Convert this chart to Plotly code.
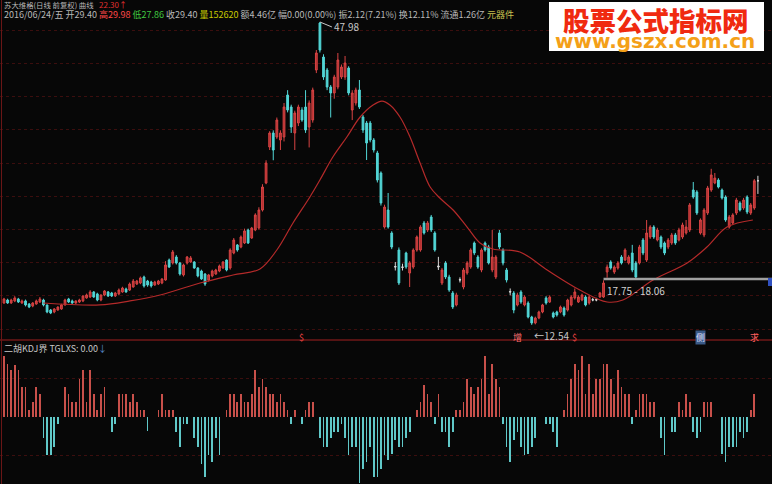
import plotly.graph_objects as go

# ---------------- data ----------------
opens = [15.10,15.45,15.10,15.34,15.57,15.10,15.34,14.98,14.75,14.98,
 15.22,15.45,14.87,14.28,14.05,14.28,14.40,14.87,15.57,15.34,
 15.10,15.22,15.34,15.69,15.80,16.39,16.16,15.45,16.04,16.39,
 16.27,15.92,16.16,16.39,16.74,16.62,16.97,17.32,17.44,18.14,
 17.67,17.56,17.21,17.32,17.44,17.79,20.13,19.78,20.48,19.78,
 18.38,19.78,19.90,19.90,19.19,18.84,18.49,17.79,18.26,18.49,
 18.84,19.19,20.13,19.19,20.95,21.89,21.65,22.12,23.64,22.70,
 23.64,23.87,25.98,29.14,33.35,34.99,34.52,34.17,34.52,39.43,
 38.03,34.99,36.16,37.68,38.03,35.69,36.51,42.36,47.86,43.88,
 42.36,40.37,39.67,40.37,41.54,41.54,42.59,37.68,38.50,40.02,
 36.86,36.16,36.16,34.17,32.65,30.31,23.99,25.98,23.29,19.31,
 21.30,19.31,20.95,18.61,19.31,21.30,21.30,24.46,23.64,25.16,
 23.29,19.31,17.44,19.78,18.14,16.27,14.87,17.79,16.97,18.61,
 19.31,22.12,20.48,18.96,22.12,21.65,18.96,18.14,23.29,21.30,
 18.96,16.39,16.27,14.87,16.39,14.87,15.10,13.46,12.76,13.34,
 14.05,15.69,15.22,13.93,14.05,14.05,14.51,14.28,14.87,15.69,
 15.22,15.45,15.80,15.10,15.45,15.45,15.80,15.80,18.73,19.90,
 18.73,19.19,20.48,20.13,19.78,20.95,19.78,19.78,22.47,20.13,
 22.82,23.99,22.47,22.82,22.12,21.65,22.12,23.06,22.47,22.82,
 23.29,23.64,28.32,28.09,23.29,23.06,25.63,28.32,29.14,29.49,
 28.32,27.50,23.99,24.46,25.63,26.80,26.21,27.50,25.63,26.21,
 29.40]
highs = [15.70,15.60,15.60,15.90,15.70,15.50,15.50,15.10,15.20,15.50,
 15.80,15.60,14.90,14.40,14.50,14.70,15.00,15.60,15.70,15.50,
 15.40,15.60,16.00,16.20,16.60,16.50,16.30,16.10,16.60,16.50,
 16.40,16.40,16.80,17.00,16.90,17.50,17.90,17.80,18.20,18.30,
 17.80,17.70,17.70,17.80,18.00,20.00,20.30,21.30,20.70,19.90,
 19.70,20.60,20.60,20.00,19.30,19.00,18.60,18.50,19.00,19.10,
 19.60,20.00,20.20,21.50,22.70,22.00,23.00,23.80,23.80,24.00,
 25.60,26.30,29.00,31.80,35.20,35.30,36.80,35.30,38.50,40.00,
 38.30,37.60,38.30,38.00,40.00,38.80,40.30,44.70,47.98,44.20,
 42.60,40.60,41.80,44.35,43.00,44.00,42.80,40.00,40.30,41.19,
 37.10,36.40,36.40,34.40,32.90,30.50,26.60,27.97,23.50,19.90,
 21.60,19.70,21.10,20.00,21.50,23.00,24.20,24.70,24.70,25.40,
 23.50,20.50,19.20,20.00,18.40,16.50,16.30,18.10,19.20,20.00,
 21.50,22.30,20.70,21.50,22.30,21.90,23.64,20.70,23.64,21.50,
 19.20,16.80,16.50,16.30,16.60,16.00,15.30,13.60,13.50,14.20,
 15.00,15.90,16.00,14.10,14.20,14.80,14.70,15.60,16.00,16.80,
 16.00,16.20,16.00,16.00,15.70,15.70,16.40,17.75,19.60,20.10,
 19.50,20.00,20.70,21.50,20.70,21.90,20.00,21.90,22.70,24.81,
 24.20,24.20,23.90,23.00,22.30,22.70,23.30,23.30,23.90,24.50,
 24.81,26.80,29.26,28.30,25.00,26.20,28.80,30.80,30.31,29.70,
 28.50,27.70,25.40,25.60,27.40,27.00,27.40,27.70,26.80,29.60,
 29.98]
lows = [15.00,15.00,15.00,15.20,15.10,15.00,14.70,14.50,14.60,14.90,
 15.10,14.70,13.90,13.80,13.90,14.20,14.30,14.80,15.10,15.00,
 15.00,15.10,15.20,15.60,15.70,15.70,15.30,15.30,15.90,15.80,
 15.80,15.80,16.00,16.30,16.30,16.50,16.90,17.20,17.30,16.90,
 17.00,16.90,17.10,17.20,17.30,17.70,19.20,19.60,19.60,18.30,
 18.20,19.60,19.80,19.10,18.10,17.80,17.10,17.60,18.10,18.40,
 18.70,19.10,18.80,19.00,20.80,21.10,21.50,22.00,22.00,22.60,
 23.50,23.70,25.80,29.00,33.00,31.80,34.30,33.00,34.00,37.40,
 35.00,33.00,35.80,36.30,35.00,33.30,36.20,42.00,44.40,41.20,
 40.00,36.80,39.00,40.10,41.30,41.20,39.40,36.50,38.20,37.80,
 35.00,31.83,33.90,32.70,29.20,26.50,23.80,23.80,21.40,18.90,
 17.20,18.90,19.10,16.97,19.10,21.10,21.10,23.10,23.40,23.40,
 21.10,18.96,17.20,17.90,16.40,14.40,14.70,17.50,16.70,18.40,
 19.10,20.70,19.10,18.70,21.10,19.60,18.70,17.90,21.40,19.50,
 17.50,16.00,13.90,14.70,15.00,14.70,13.30,12.54,12.60,13.20,
 13.90,14.90,15.10,13.30,13.50,13.90,13.50,14.10,14.70,15.50,
 15.10,15.30,14.70,14.90,15.30,15.30,15.70,15.70,18.06,19.00,
 18.50,19.00,19.60,20.00,19.60,18.70,17.90,19.60,20.70,19.90,
 22.60,22.60,22.30,21.40,20.70,21.40,21.90,21.90,22.30,22.60,
 23.10,23.40,27.30,25.40,23.10,22.80,25.40,28.10,29.00,28.50,
 27.20,24.60,23.80,24.30,25.40,25.80,26.00,25.50,25.40,26.00,
 27.86]
closes = [15.57,15.10,15.45,15.69,15.22,15.34,14.87,14.63,15.10,15.34,
 15.57,14.87,14.05,13.93,14.40,14.63,14.87,15.45,15.22,15.10,
 15.34,15.45,15.92,16.04,16.39,15.80,15.45,16.04,16.51,15.92,
 15.92,16.27,16.62,16.85,16.39,17.32,17.67,17.67,18.03,17.09,
 17.21,17.09,17.56,17.67,17.91,19.55,19.31,21.07,19.78,18.49,
 19.55,20.48,20.37,19.19,18.26,17.91,17.32,18.38,18.84,18.96,
 19.43,19.90,18.96,21.30,22.47,21.30,22.82,23.53,22.12,23.87,
 25.40,25.98,28.67,31.48,34.99,33.00,36.51,34.99,38.03,37.68,
 35.69,37.33,38.03,36.51,35.34,38.50,40.02,44.35,44.70,41.54,
 40.37,39.67,41.54,43.53,42.71,43.18,39.67,39.67,40.02,38.03,
 35.34,33.82,34.17,33.00,29.49,26.80,26.33,23.99,21.65,19.35,
 17.44,19.28,19.31,19.78,21.30,22.82,23.99,23.29,24.46,23.64,
 21.30,19.40,18.96,18.14,16.62,14.63,16.04,17.82,18.96,19.78,
 21.30,20.95,19.31,21.30,21.30,19.78,20.48,20.48,21.65,19.78,
 17.79,16.42,14.28,16.04,15.22,15.80,13.46,12.76,13.34,14.05,
 14.87,15.10,15.80,13.46,13.70,14.63,13.70,15.45,15.80,16.39,
 15.80,16.04,14.87,15.80,15.48,15.48,16.27,17.44,19.31,19.19,
 19.31,19.78,19.78,21.30,20.48,18.96,18.14,21.65,20.95,23.29,
 23.99,22.82,23.64,21.65,20.95,22.47,23.06,22.12,23.64,24.23,
 23.99,26.57,27.50,25.63,24.81,25.98,28.55,30.08,29.72,28.67,
 27.38,24.81,25.16,25.40,27.15,25.98,27.15,25.75,26.57,29.40,
 29.40]

# moving-average curve, read as (bar index, price) points
ma_idx = [10.9, 26.7, 35.1, 43.5, 54.6, 63.8, 71.3, 76.0, 80.5, 85.2, 88.0, 91.6,
          95.5, 99.2, 102.8, 105.3, 107.5, 110.3, 113.1, 115.9, 118.7, 121.4,
          125.1, 129.0, 132.6, 136.2, 143.7, 151.3, 160.4, 168.0, 172.4, 180.8,
          190.3, 195.8, 201.4, 208.6]
ma_val = [15.10, 14.87, 15.34, 16.04, 17.44, 18.38, 19.08, 21.30, 24.46, 27.50, 29.49, 32.18,
          34.52, 36.86, 38.27, 38.73, 38.27, 36.86, 34.52, 31.48, 28.67, 27.38,
          25.98, 23.99, 22.12, 21.42, 21.07, 18.96, 16.62, 15.22, 15.45, 17.79,
          19.78, 21.65, 23.99, 24.81]

# lower-panel indicator (二胡KDJ界)
kdj = [61,53,47,52,47,30,30,7,15,30,
       23,-21,-38,-38,-30,-7,0,30,23,15,
       15,38,47,15,47,23,7,23,30,0,
       -15,-7,23,23,23,15,23,15,7,7,
       -14,0,0,7,23,7,7,7,-15,-30,
       -7,-7,0,-21,-30,-47,-60,-38,-45,-21,
       -38,0,7,23,23,15,23,15,15,23,
       47,30,38,30,23,23,15,23,15,7,
       -7,7,0,-7,7,15,15,0,-21,-30,
       -30,-21,-15,-15,-7,-21,-38,-30,-30,-66,
       -52,-45,-30,-60,-60,-52,-38,
       -43,-37,-23,-30,-30,-21,-15,0,7,15,
       32,23,15,-7,23,-15,-15,-30,-15,7,
       7,15,38,30,23,30,38,61,23,53,
       38,30,-7,-30,-45,-23,-15,-30,-38,-37,
       -30,-21,0,0,-7,-7,-15,-30,0,7,
       23,38,53,47,61,23,53,23,38,38,
       53,53,38,23,47,30,23,23,-7,7,
       23,23,23,15,15,0,-21,-38,0,-15,
       -15,15,7,23,15,-15,-21,-15,15,15,
       15,0,0,-37,-45,-30,-30,-30,-15,-21,
       -15,7,23,0]

separator_marks = [(83, "$", "#e04040", None), (143, "增", "#ff7070", None),
                   (159, "$", "#e04040", None), (194, "侧", "#e0e0ff", "#3a5a88"),
                   (209, "求", "#ff6060", None)]

# ---------------- layout helpers ----------------
W, H = 772, 484
N = len(closes)
idx = list(range(N))
X0, DX = 4.0, 3.59                 # pixel of first bar, pixel step
x_range = [-X0 / DX, (W - X0) / DX]
P_TOP, P_STEP = 50.55, 0.117        # price at top pixel, price per pixel
SEP = 340


def pxx(x):
    return x / W


def pyy(y):
    return 1 - y / H


doji = [abs(c - o) < 0.1 for o, c in zip(opens, closes)]


def pick(arr, want):
    return [v if d == want else None for v, d in zip(arr, doji)]


fig = go.Figure()
fig.add_trace(go.Candlestick(
    x=idx, open=pick(opens, False), high=pick(highs, False),
    low=pick(lows, False), close=pick(closes, False),
    increasing=dict(line=dict(color="#d84444", width=1), fillcolor="#b02e2e"),
    decreasing=dict(line=dict(color="#52d6d6", width=1), fillcolor="#52d6d6"),
    whiskerwidth=0, hoverinfo="skip", xaxis="x", yaxis="y"))
fig.add_trace(go.Candlestick(
    x=idx, open=pick(opens, True), high=pick(highs, True),
    low=pick(lows, True), close=pick(closes, True),
    increasing=dict(line=dict(color="#d8d8d8", width=1), fillcolor="#d8d8d8"),
    decreasing=dict(line=dict(color="#d8d8d8", width=1), fillcolor="#d8d8d8"),
    whiskerwidth=0, hoverinfo="skip", xaxis="x", yaxis="y"))
fig.add_trace(go.Scatter(x=ma_idx, y=ma_val, mode="lines",
                         line=dict(color="#b42a2a", width=1.2, shape="spline", smoothing=1.0),
                         hoverinfo="skip", xaxis="x", yaxis="y"))
fig.add_trace(go.Bar(x=idx, y=kdj, width=0.2,
                     marker=dict(color=["#c8504a" if v > 0 else "#60c8c8" for v in kdj],
                                 line=dict(width=0)),
                     hoverinfo="skip", xaxis="x2", yaxis="y2"))

y_main_lo = P_TOP - P_STEP * SEP
fig.update_layout(
    width=W, height=H, margin=dict(l=0, r=0, t=0, b=0),
    paper_bgcolor="#070707", plot_bgcolor="#070707", showlegend=False,
    bargap=0,
    font=dict(family="Noto Sans CJK SC, DejaVu Sans, sans-serif", size=9, color="#b8b8b8"),
    xaxis=dict(domain=[0, 1], range=x_range, visible=False, rangeslider=dict(visible=False), anchor="y"),
    yaxis=dict(domain=[1 - SEP / H, 1], range=[y_main_lo, P_TOP], showticklabels=False,
               showgrid=True, gridcolor="#3c0e0e", griddash="dot", gridwidth=1,
               tick0=P_TOP - P_STEP * 329, dtick=P_STEP * 33.2, zeroline=False, ticks=""),
    xaxis2=dict(domain=[0, 1], range=x_range, visible=False, anchor="y2", matches="x"),
    yaxis2=dict(domain=[0, 1 - 342 / H], range=[-67.3, 74.7], showticklabels=False,
                showgrid=True, gridcolor="#3c0e0e", griddash="dot", tickvals=[-38.5, 38.5],
                zeroline=False, ticks=""),
)

shapes = [
    dict(type="line", xref="paper", yref="paper", x0=0, x1=1, y0=pyy(SEP), y1=pyy(SEP),
         line=dict(color="#a42020", width=1)),
    dict(type="line", xref="paper", yref="paper", x0=pxx(1.5), x1=pxx(1.5), y0=0, y1=1,
         line=dict(color="#6a1616", width=1)),
    # price gap band
    dict(type="rect", xref="x", yref="y", x0=167, x1=N + 3, y0=highs[167], y1=lows[168],
         fillcolor="#a0a0a0", line=dict(width=0)),
    dict(type="rect", xref="paper", yref="paper", x0=pxx(768), x1=1, y0=pyy(286), y1=pyy(278),
         fillcolor="#3050c0", line=dict(width=0)),
    # watermark box
    dict(type="rect", xref="paper", yref="paper", x0=pxx(549), x1=pxx(764), y0=pyy(51), y1=pyy(2),
         fillcolor="#ffffff", line=dict(width=0), layer="above"),
]
fig.update_layout(shapes=shapes)

G = "#b8b8b8"
line2 = (f'<span style="color:{G}">2016/06/24/五 开29.40 </span>'
         f'<span style="color:#ff4848">高29.98 </span>'
         f'<span style="color:#40c840">低27.86 </span>'
         f'<span style="color:{G}">收29.40 </span>'
         f'<span style="color:#c8c800">量152620 </span>'
         f'<span style="color:{G}">额4.46亿 幅0.00(0.00%) 振2.12(7.21%) 换12.11% 流通1.26亿 </span>'
         f'<span style="color:#c8c050">元器件</span>')

ann = [
    dict(x=pxx(2), y=pyy(4.2), text="苏大维格(日线 前复权) 曲线", font=dict(color=G, size=7.4)),
    dict(x=pxx(97), y=pyy(4.2), text="22.30↑", font=dict(color="#e03030", size=8)),
    dict(x=pxx(2), y=pyy(15), text=line2),
    dict(x=pxx(2), y=pyy(348), text='二胡KDJ界 TGLXS: 0.00<span style="color:#5a8ad0">↓</span>',
         font=dict(color="#c8c8c8")),
]
for a in ann:
    a.update(xref="paper", yref="paper", xanchor="left", yanchor="middle", showarrow=False)

# watermark
ann.append(dict(xref="paper", yref="paper", x=pxx(656), y=pyy(19), text="股票公式指标网",
                xanchor="center", yanchor="middle", showarrow=False,
                font=dict(color="#f02a10", size=26.5, family="Noto Sans CJK SC", weight=900)))
ann.append(dict(xref="paper", yref="paper", x=pxx(655), y=pyy(41), text="www.gszx.com.cn",
                xanchor="center", yanchor="middle", showarrow=False,
                font=dict(color="#f4a018", size=20, family="DejaVu Sans", weight="bold")))

# data labels
peak = highs.index(max(highs))
low_i = lows.index(min(lows))
ann.append(dict(xref="x", yref="y", x=peak, y=highs[peak], text=f"{highs[peak]:.2f}",
                showarrow=True, arrowhead=0, arrowwidth=1, arrowcolor="#c8c8c8", ax=12, ay=5,
                xanchor="left", yanchor="middle", font=dict(color="#c8c8c8", size=10)))
ann.append(dict(xref="x", yref="y", x=low_i, y=lows[low_i], text=f"←{lows[low_i]:.2f}",
                showarrow=False, xanchor="left", yanchor="top", xshift=0, yshift=-1,
                font=dict(color="#c8c8c8", size=10)))
ann.append(dict(xref="x", yref="y", x=167.5, y=highs[167], text=f"{highs[167]:.2f} - {lows[168]:.2f}",
                showarrow=False, xanchor="left", yanchor="top", yshift=-1,
                font=dict(color="#d0d0d0", size=10)))
for i, t, c, bg in separator_marks:
    d = dict(xref="x", yref="paper", x=i, y=pyy(SEP - 3), text=t, showarrow=False,
             xanchor="center", yanchor="middle", font=dict(color=c, size=9))
    if bg:
        d.update(bgcolor=bg, borderpad=0)
    ann.append(d)

fig.update_layout(annotations=ann)
fig.write_html("out.html", config={"displayModeBar": False},
               post_script="document.body.style.margin='0';document.body.style.padding='0';"
                           "document.body.style.background='#070707';")
